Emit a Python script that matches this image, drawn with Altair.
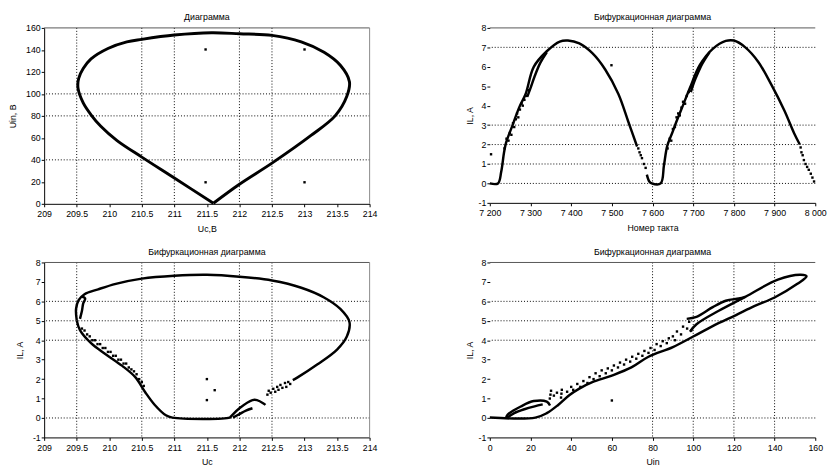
import altair as alt
import pandas as pd

FONT = "Liberation Sans"

# ---------------- Top-left: Диаграмма (Uc,B vs Uin, B) ----------------
tl_x = [211.6, 211.0, 210.5, 210.12, 209.87, 209.72, 209.6, 209.52, 209.53, 209.6, 209.72,
        209.98, 210.27, 210.5, 211.0, 211.57, 212.0, 212.5, 212.95, 213.3, 213.55, 213.69,
        213.65, 213.47, 213.1, 212.5, 212.0, 211.6]
tl_y = [0.5, 23.5, 42.5, 57.5, 70.5, 81.0, 91.8, 105.2, 114, 123, 131.8,
        141.3, 147.3, 149.6, 153.5, 155.6, 154.7, 153.2, 147.3, 137.8, 126, 111.1,
        97.8, 80, 62.2, 37, 17.8, 0.5]
tl_dots_x = [211.48, 213.0, 211.48, 213.0]
tl_dots_y = [140.4, 140.4, 19.6, 19.6]

# ---------------- Top-right: IL vs Номер такта ----------------
tr1_x = [7200, 7220, 7228, 7235, 7240, 7256, 7272, 7288, 7308, 7340, 7372, 7392, 7420,
         7452, 7484, 7516, 7540, 7562]
tr1_y = [0, 0, 0.6, 1.6, 2.1, 3.0, 3.9, 4.6, 6.0, 6.8, 7.3, 7.35, 7.2,
         6.7, 5.85, 4.6, 3.2, 1.9]
tr1_loop_x = [7292, 7300, 7310, 7324, 7340]
tr1_loop_y = [4.45, 4.9, 5.5, 6.2, 6.75]
tr2_x = [7586, 7592, 7598, 7620, 7628, 7636, 7648, 7660, 7676, 7692, 7716, 7748, 7780,
         7800, 7828, 7860, 7892, 7924, 7948, 7962]
tr2_y = [0.45, 0.1, 0, 0, 0.92, 1.92, 2.58, 3.25, 4.08, 4.92, 6.08, 6.92, 7.33,
         7.35, 7.0, 6.25, 5.08, 3.75, 2.58, 2.0]
tr2_loop_x = [7694, 7702, 7712, 7722, 7740]
tr2_loop_y = [4.7, 5.2, 5.7, 6.15, 6.75]
tr_pts_x = [7203, 7236, 7241, 7246, 7249, 7253, 7257, 7260, 7264, 7267, 7270, 7274, 7278,
            7281, 7285, 7290, 7296, 7565, 7568, 7571, 7574, 7579, 7583, 7499,
            7637, 7642, 7646, 7650, 7655, 7659, 7663, 7667, 7671, 7675, 7680, 7684, 7689,
            7695, 7964, 7966, 7969, 7972, 7976, 7980, 7984, 7989, 7993, 7997]
tr_pts_y = [1.5, 1.8, 2.3, 2.2, 2.6, 2.5, 3.1, 2.9, 3.3, 3.6, 3.4, 3.8, 4.1,
            4.0, 4.3, 4.5, 4.8, 1.8, 1.6, 1.45, 1.3, 1.0, 0.8, 6.08,
            1.8, 2.3, 2.2, 2.8, 2.9, 3.4, 3.6, 3.5, 3.9, 4.2, 4.1, 4.5, 4.7,
            5.0, 1.85, 1.6, 1.45, 1.2, 1.0, 0.85, 0.7, 0.5, 0.3, 0.1]

# ---------------- Bottom-left: IL vs Uc ----------------
bl_outer_x = [209.5, 209.49, 209.53, 209.62, 209.83, 210.1, 210.5, 211.0, 211.5, 212.0,
              212.5, 212.95, 213.3, 213.55, 213.69, 213.65, 213.5, 213.2, 212.9, 212.82]
bl_outer_y = [5.03, 5.61, 6.06, 6.37, 6.62, 6.9, 7.17, 7.32, 7.37, 7.27,
              7.07, 6.7, 6.2, 5.61, 4.94, 4.19, 3.52, 2.76, 2.1, 1.95]
bl_lower_x = [209.5, 209.55, 209.72, 209.95, 210.2, 210.4, 210.55, 210.7, 210.87, 210.97,
              211.85, 211.87, 212.0, 212.2, 212.27, 212.37, 212.4]
bl_lower_y = [5.03, 4.52, 3.85, 3.27, 2.68, 2.1, 1.34, 0.67, 0.14, 0.02,
              0.02, 0.08, 0.5, 0.92, 0.92, 0.75, 0.67]
bl_loop_x = [209.55, 209.58, 209.6, 209.63, 209.58]
bl_loop_y = [5.1, 5.5, 5.9, 6.15, 6.25]
bl_hook_x = [211.9, 212.0, 212.1, 212.2]
bl_hook_y = [0.02, 0.2, 0.38, 0.5]
bl_pts_x = [209.58, 209.62, 209.66, 209.7, 209.74, 209.78, 209.82, 209.86, 209.9, 209.94,
            209.98, 210.02, 210.06, 210.1, 210.14, 210.18, 210.22, 210.26, 210.3, 210.34,
            210.38, 210.42, 210.46, 210.5, 210.53,
            212.43, 212.45, 212.48, 212.52, 212.55, 212.58, 212.6, 212.63, 212.66, 212.7,
            212.72, 212.75, 212.78, 211.5, 211.62, 211.5]
bl_pts_y = [4.6, 4.5, 4.3, 4.2, 4.0, 4.0, 3.8, 3.8, 3.6, 3.6,
            3.4, 3.4, 3.2, 3.2, 3.0, 3.0, 2.8, 2.8, 2.6, 2.5,
            2.4, 2.25, 2.0, 1.85, 1.65,
            1.2, 1.4, 1.3, 1.5, 1.35, 1.6, 1.45, 1.7, 1.55, 1.8,
            1.6, 1.85, 1.75, 2.0, 1.43, 0.92]

# ---------------- Bottom-right: IL vs Uin ----------------
br_main_x = [0, 22.4, 28, 33.6, 39.2, 44, 50.4, 60, 69.6, 78, 90, 100, 110, 120.8, 130,
             140, 151.2, 155.7, 152.9, 141.6, 125.6, 112.8, 101.6, 98.4]
br_main_y = [0.02, 0.02, 0.25, 0.67, 1.18, 1.51, 1.84, 2.18, 2.6, 3.15, 3.65, 4.19, 4.75,
             5.28, 5.75, 6.2, 6.9, 7.29, 7.37, 7.12, 6.23, 5.53, 4.82, 4.44]
br_lobe_x = [96.8, 101.6, 109.6, 116, 122.4, 125.6]
br_lobe_y = [5.1, 5.2, 5.7, 6.03, 6.15, 6.23]
br_hump_x = [8, 8.8, 15.2, 21.6, 28, 29.6]
br_hump_y = [0.02, 0.17, 0.59, 0.87, 0.84, 0.64]
br_hump2_x = [8.5, 12, 17, 22, 26]
br_hump2_y = [0.02, 0.25, 0.45, 0.6, 0.7]
br_pts_x = [29.5, 29.8, 30.1, 31.5, 33, 35, 35.2, 35.4, 38, 40, 41, 43, 44.5, 46, 48, 49,
            51, 52, 54, 55, 57, 58, 60, 61, 63, 64, 66, 67, 69, 70, 72, 73, 75, 76, 78,
            79, 81, 82, 84, 85, 87, 88, 90, 91, 92, 94, 95, 97, 98, 99, 60]
br_pts_y = [1.0, 1.2, 1.4, 1.15, 1.3, 1.05, 1.25, 1.45, 1.35, 1.6, 1.45, 1.75, 1.6, 1.9,
            1.8, 2.1, 2.0, 2.3, 2.15, 2.45, 2.3, 2.55, 2.45, 2.7, 2.6, 2.85, 2.75, 3.0,
            2.9, 3.15, 3.05, 3.3, 3.2, 3.45, 3.35, 3.6, 3.5, 3.8, 3.7, 3.95, 3.85, 4.1,
            4.2, 4.0, 4.45, 4.3, 4.7, 4.6, 4.95, 4.5, 0.9]

# ---------------- axis ticks / grid values ----------------
tl_xticks = [209, 209.5, 210, 210.5, 211, 211.5, 212, 212.5, 213, 213.5, 214]
tl_yticks = [0, 20, 40, 60, 80, 100, 120, 140, 160]
tl_vgrid = [209.5, 210.5, 211, 212, 212.5]
tl_hgrid = [40, 80, 100]
tr_xticks = [7200, 7300, 7400, 7500, 7600, 7700, 7800, 7900, 8000]
il_yticks = [-1, 0, 1, 2, 3, 4, 5, 6, 7, 8]
tr_vgrid = [7600, 7700, 7800, 7900]
tr_hgrid = [0, 1, 2, 3, 7]
bl_vgrid = [209.5, 210.5, 211, 212, 212.5]
bl_hgrid = [0, 4, 5, 6]
br_xticks = [0, 20, 40, 60, 80, 100, 120, 140, 160]
br_vgrid = [80, 100, 120, 140]
br_hgrid = [0, 4, 5, 6]


def seg_df(segs):
    rows = []
    for name, xs, ys in segs:
        for i, (a, b) in enumerate(zip(xs, ys)):
            rows.append({"seg": name, "i": i, "x": a, "y": b})
    return pd.DataFrame(rows)


def panel(segs, pts_x, pts_y, xdom, ydom, xvals, yvals, vgrid, hgrid, title, xtitle,
          ytitle, boxed, xexpr, ytpad, w, h, sw):
    xs = alt.Scale(domain=xdom, nice=False, zero=False)
    ys = alt.Scale(domain=ydom, nice=False, zero=False)
    xax = alt.Axis(values=xvals, labelExpr=xexpr, grid=False, domain=True,
                   domainColor="black", domainWidth=1, ticks=True, tickColor="black",
                   tickSize=3, labelFont=FONT, labelFontSize=9, labelColor="black",
                   labelPadding=3, labelFlush=False, labelOverlap=False, title=xtitle,
                   titleFont=FONT, titleFontSize=9, titleFontWeight="normal",
                   titleColor="black", titlePadding=6)
    yax = alt.Axis(values=yvals, labelExpr="'' + datum.value", grid=False, domain=boxed,
                   domainColor="black", domainWidth=1, ticks=True, tickColor="black",
                   tickSize=3, labelFont=FONT, labelFontSize=9, labelColor="black",
                   labelPadding=1, labelFlush=False, labelOverlap=False, title=ytitle,
                   titleFont=FONT, titleFontSize=9, titleFontWeight="normal",
                   titleColor="black", titlePadding=ytpad)
    X = alt.X("x:Q", scale=xs, axis=xax)
    Y = alt.Y("y:Q", scale=ys, axis=yax)

    vg = alt.Chart(pd.DataFrame({"x": vgrid})).mark_rule(
        color="black", strokeDash=[1, 2], strokeWidth=1).encode(x=X)
    hg = alt.Chart(pd.DataFrame({"y": hgrid})).mark_rule(
        color="black", strokeDash=[1, 2], strokeWidth=1).encode(y=Y)
    top = alt.Chart(pd.DataFrame({"y": [ydom[1]]})).mark_rule(
        color="#555555", strokeWidth=1).encode(y=Y)
    layers = [vg, hg, top]
    if boxed:
        right = alt.Chart(pd.DataFrame({"x": [xdom[1]]})).mark_rule(
            color="#888888", strokeWidth=1).encode(x=X)
        layers.append(right)
    lines = alt.Chart(seg_df(segs)).mark_line(
        color="black", strokeWidth=sw, interpolate="catmull-rom").encode(
        x=X, y=Y, detail="seg:N", order=alt.Order("i:Q"))
    pts = alt.Chart(pd.DataFrame({"x": pts_x, "y": pts_y})).mark_square(
        size=6, color="black", opacity=1).encode(x=X, y=Y)
    layers += [lines, pts]
    return alt.layer(*layers).properties(
        width=w, height=h,
        title=alt.TitleParams(title, font=FONT, fontSize=9, fontWeight="normal",
                              color="black", anchor="middle", frame="group", offset=2))


plain = "'' + datum.value"
spaced = "replace(format(datum.value, ','), ',', ' ')"

tl = panel([("a", tl_x, tl_y)], tl_dots_x, tl_dots_y, [209, 214], [0, 160], tl_xticks,
           tl_yticks, tl_vgrid, tl_hgrid, "Диаграмма", "Uc,B", "Uin, B", True, plain, 8,
           333, 180, 3)
tr = panel([("a", tr1_x, tr1_y), ("b", tr1_loop_x, tr1_loop_y), ("c", tr2_x, tr2_y),
            ("d", tr2_loop_x, tr2_loop_y)], tr_pts_x, tr_pts_y, [7200, 8000], [-1, 8],
           tr_xticks, il_yticks, tr_vgrid, tr_hgrid, "Бифуркационная диаграмма",
           "Номер такта", "IL, A", False, spaced, 4, 333, 179, 2.5)
bl = panel([("a", bl_outer_x, bl_outer_y), ("b", bl_lower_x, bl_lower_y),
            ("c", bl_loop_x, bl_loop_y), ("d", bl_hook_x, bl_hook_y)], bl_pts_x, bl_pts_y,
           [209, 214], [-1, 8], tl_xticks, il_yticks, bl_vgrid, bl_hgrid,
           "Бифуркационная диаграмма", "Uc", "IL, A", True, plain, 8, 333, 179, 2.5)
br = panel([("a", br_main_x, br_main_y), ("b", br_lobe_x, br_lobe_y),
            ("c", br_hump_x, br_hump_y), ("d", br_hump2_x, br_hump2_y)], br_pts_x,
           br_pts_y, [0, 160], [-1, 8], br_xticks, il_yticks, br_vgrid, br_hgrid,
           "Бифуркационная диаграмма", "Uin", "IL, A", False, plain, 4, 333, 179, 2.5)

chart = alt.concat(tl, tr, bl, br, columns=2, spacing={"row": 15, "column": 89}).properties(
    padding=0, background="white"
).configure_view(stroke=None)

chart.save("out.html", embed_options={"renderer": "svg", "actions": False})
